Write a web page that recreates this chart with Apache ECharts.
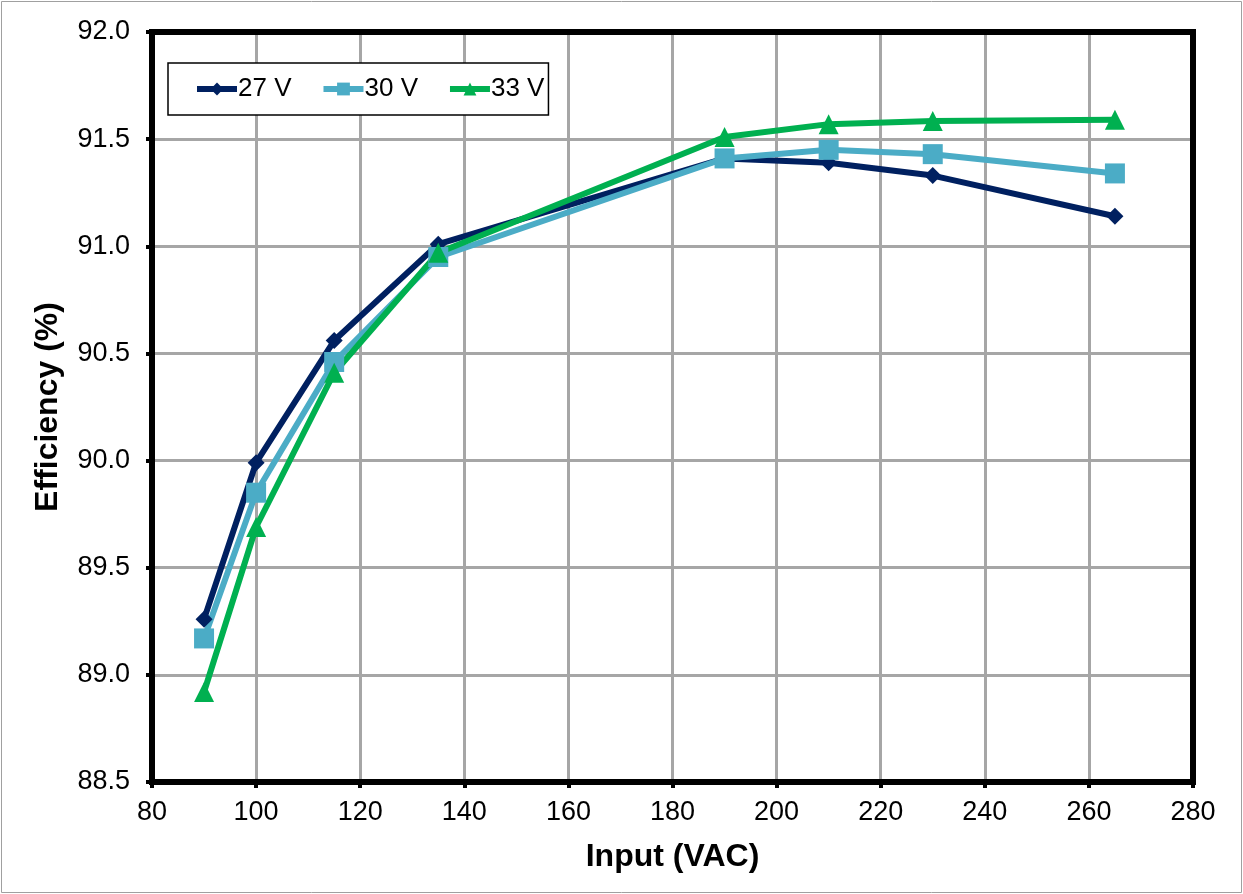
<!DOCTYPE html>
<html><head><meta charset="utf-8">
<script src="https://cdn.jsdelivr.net/npm/echarts@6/dist/echarts.min.js"></script>
<style>html,body{margin:0;padding:0;background:#fff}#c{width:1243px;height:894px}</style>
</head><body><div id="c"></div>
<script>
const inputVAC = [90, 100, 115, 135, 190, 210, 230, 265];
const eff27 = [89.26, 89.99, 90.56, 91.01, 91.41, 91.39, 91.33, 91.14];
const eff30 = [89.17, 89.85, 90.46, 90.95, 91.41, 91.45, 91.43, 91.34];
const eff33 = [88.92, 89.69, 90.41, 90.97, 91.51, 91.57, 91.585, 91.59];
const seriesNames = ['27 V', '30 V', '33 V'];
const xTitle = 'Input (VAC)';
const yTitle = 'Efficiency (%)';

const font = 'Liberation Sans, Arial, sans-serif';
const chart = echarts.init(document.getElementById('c'), null, {renderer: 'canvas'});
const pair = arr => inputVAC.map((x, i) => [x, arr[i]]);
const mk = (name, data, color, symbol, size) => ({
  name, type: 'line', data: pair(data), symbol, symbolSize: size,
  lineStyle: {color, width: 6}, itemStyle: {color},
  z: 3
});
chart.setOption({
  animation: false,
  backgroundColor: '#fff',
  graphic: [{type: 'rect', shape: {x: 1.5, y: 1.5, width: 1240, height: 891}, style: {fill: null, stroke: '#a0a0a0', lineWidth: 1}, silent: true}],
  grid: {left: 152, right: 50, top: 32, bottom: 112, show: true, borderColor: '#000', borderWidth: 6, backgroundColor: 'transparent', z: 5},
  legend: {
    left: 168, top: 63, padding: [13, 4, 13, 26],
    orient: 'horizontal', itemGap: 29, itemWidth: 40, itemHeight: 16,
    borderColor: '#000', borderWidth: 1.5, backgroundColor: '#fff',
    lineStyle: {width: 6},
    textStyle: {fontFamily: font, fontSize: 26, color: '#000', padding: [0, 0, 0, -4]},
    data: seriesNames
  },
  xAxis: {
    type: 'value', min: 80, max: 280, interval: 20,
    name: xTitle, nameLocation: 'middle', nameGap: 59,
    nameTextStyle: {fontFamily: font, fontSize: 32, fontWeight: 'bold', color: '#000'},
    axisLine: {show: true, lineStyle: {color: '#000', width: 6}},
    axisTick: {show: true, inside: false, length: 6, lineStyle: {color: '#000', width: 4}},
    axisLabel: {fontFamily: font, fontSize: 27, color: '#000', margin: 17},
    splitLine: {show: true, lineStyle: {color: '#a6a6a6', width: 3}}
  },
  yAxis: {
    type: 'value', min: 88.5, max: 92.0, interval: 0.5,
    name: yTitle, nameLocation: 'middle', nameGap: 88, nameRotate: 90,
    nameTextStyle: {fontFamily: font, fontSize: 32, fontWeight: 'bold', color: '#000'},
    axisLine: {show: true, lineStyle: {color: '#000', width: 6}},
    axisTick: {show: true, inside: false, length: 6, lineStyle: {color: '#000', width: 4}},
    axisLabel: {fontFamily: font, fontSize: 27, color: '#000', margin: 22, formatter: v => v.toFixed(1)},
    splitLine: {show: true, lineStyle: {color: '#a6a6a6', width: 3}}
  },
  series: [
    mk(seriesNames[0], eff27, '#002060', 'diamond', 17),
    mk(seriesNames[1], eff30, '#4bacc6', 'rect', 20),
    mk(seriesNames[2], eff33, '#00b050', 'triangle', 20)
  ]
});
</script></body></html>
